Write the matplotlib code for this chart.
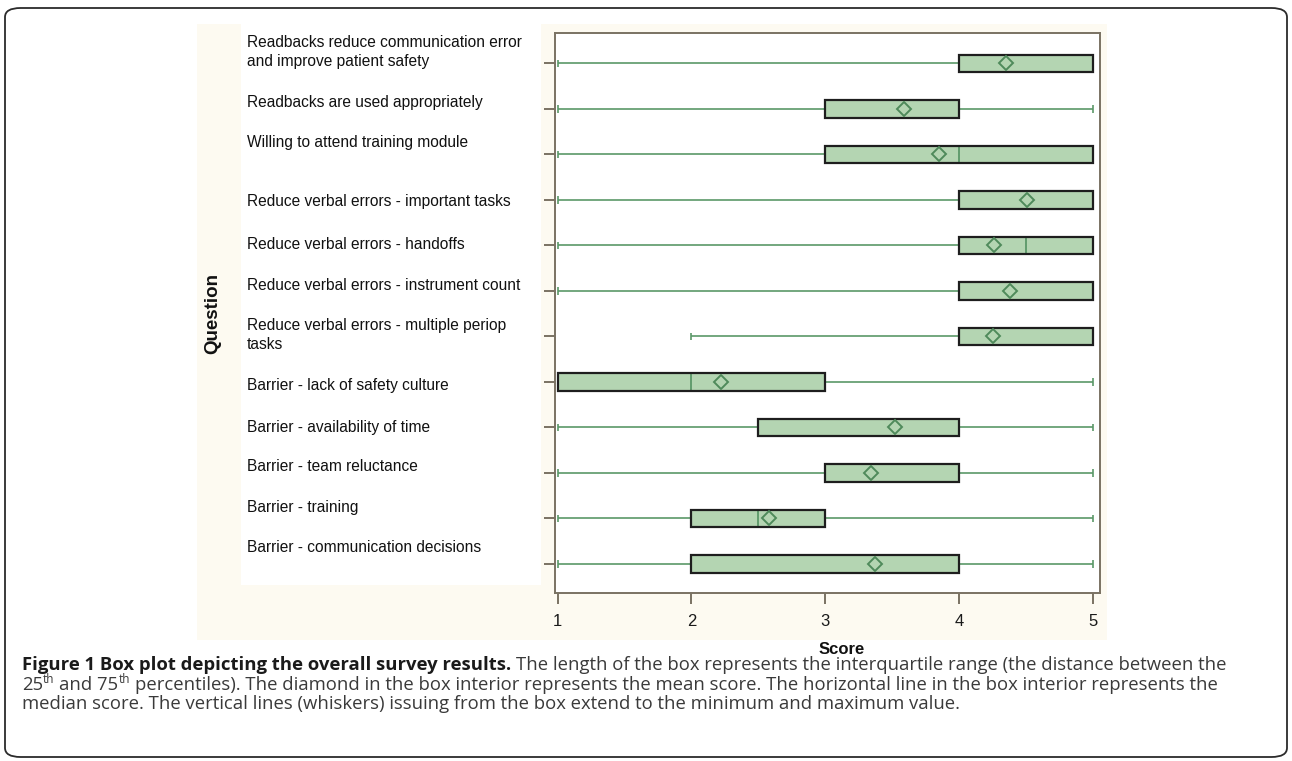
import numpy as np
import matplotlib.pyplot as plt
from matplotlib.patches import Rectangle, FancyBboxPatch
from matplotlib.transforms import blended_transform_factory

# ---------- survey data (five point scale) ----------
questions = [
    'Readbacks reduce communication error\nand improve patient safety',
    'Readbacks are used appropriately',
    'Willing to attend training module',
    'Reduce verbal errors - important tasks',
    'Reduce verbal errors - handoffs',
    'Reduce verbal errors - instrument count',
    'Reduce verbal errors - multiple periop\ntasks',
    'Barrier - lack of safety culture',
    'Barrier - availability of time',
    'Barrier - team reluctance',
    'Barrier - training',
    'Barrier - communication decisions',
]
score_min = [1, 1, 1, 1, 1, 1, 2, 1, 1, 1, 1, 1]
score_q1 = [4, 3, 3, 4, 4, 4, 4, 1, 2.5, 3, 2, 2]
score_median = [5, 4, 4, 5, 4.5, 5, 4, 2, 4, 3, 2.5, 4]
score_q3 = [5, 4, 5, 5, 5, 5, 5, 3, 4, 4, 3, 4]
score_max = [5, 5, 5, 5, 5, 5, 5, 5, 5, 5, 5, 5]
score_mean = [4.35, 3.59, 3.85, 4.51, 4.26, 4.38, 4.25, 2.22, 3.52, 3.34, 2.58, 3.37]
score_ticks = [1, 2, 3, 4, 5]

# label placement relative to each row (row units)
label_shift = [-0.25, -0.15, -0.26, 0.04, -0.03, -0.13, -0.03, 0.07, 0.0, -0.13, -0.25, -0.35]

caption_bold = 'Figure 1 Box plot depicting the overall survey results.'
caption_1 = ' The length of the box represents the interquartile range (the distance between the'
caption_2 = ' percentiles). The diamond in the box interior represents the mean score. The horizontal line in the box interior represents the'
caption_3 = 'median score. The vertical lines (whiskers) issuing from the box extend to the minimum and maximum value.'

# ---------- colours ----------
cream = '#fdfaf1'
box_fill = '#b4d5b2'
green = '#5b9868'
frame = '#7a7263'

plt.rcParams['font.family'] = ['Liberation Sans', 'DejaVu Sans']

fig = plt.figure(figsize=(12.92, 7.61), dpi=100)
W, H = 1292.0, 761.0

# outer rounded frame of the page
fig.patches.append(FancyBboxPatch((5 / W, 4 / H), 1282 / W, 749 / H,
                                  boxstyle='round,pad=0,rounding_size=0.012',
                                  transform=fig.transFigure, fill=False,
                                  edgecolor='#2b2b2b', linewidth=1.3, zorder=0))
# cream panel behind the chart and white panel for the question text
fig.patches.append(Rectangle((197 / W, 1 - 640 / H), 910 / W, 616 / H,
                             transform=fig.transFigure, facecolor=cream,
                             edgecolor='none', zorder=0))
fig.patches.append(Rectangle((241 / W, 1 - 585 / H), 300 / W, 561 / H,
                             transform=fig.transFigure, facecolor='white',
                             edgecolor='none', zorder=0))

ax = fig.add_axes([555 / W, 1 - 593 / H, 545 / W, 560 / H])
ax.set_zorder(1)
ax.set_facecolor('white')

rows = np.arange(1, len(questions) + 1)
q1 = np.array(score_q1)
q3 = np.array(score_q3)

# whiskers and caps
ax.hlines(rows, score_min, q1, color=green, lw=1.2, zorder=2)
ax.hlines(rows, q3, score_max, color=green, lw=1.2, zorder=2)
ax.vlines(score_min, rows - 0.08, rows + 0.08, color=green, lw=1.2, zorder=2)
ax.vlines(score_max, rows - 0.08, rows + 0.08, color=green, lw=1.2, zorder=2)

# boxes: fill, median, then outline on top
ax.barh(rows, q3 - q1, left=q1, height=0.39, color=box_fill, edgecolor='none', zorder=3)
ax.vlines(score_median, rows - 0.195, rows + 0.195, color=green, lw=1.3, zorder=4)
ax.barh(rows, q3 - q1, left=q1, height=0.39, fill=False, edgecolor='#1e1e1e', lw=1.6, zorder=5)

# means
ax.plot(score_mean, rows, linestyle='none', marker='D', ms=7.2, mfc='none',
        mec='#4f8a5b', mew=1.4, zorder=6)

ax.set_xlim(0.981, 5.052)
ax.set_ylim(12.64, 0.33)
ax.set_xticks(score_ticks)
ax.set_xticklabels([str(t) for t in score_ticks], fontsize=12, color='#1a1a1a')
ax.set_yticks(rows)
ax.set_yticklabels([])
ax.tick_params(axis='both', direction='out', length=8, width=1.4, color=frame)
ax.tick_params(axis='x', pad=7)
for s in ax.spines.values():
    s.set_color(frame)
    s.set_linewidth(1.4)

# question text in the white panel
trans = blended_transform_factory(fig.transFigure, ax.transData)
for r, q, dy in zip(rows, questions, label_shift):
    fig.text(247 / W, r + dy, q, transform=trans, ha='left', va='center',
             fontsize=11.2, color='#111111', linespacing=1.32)

fig.text(213 / W, 1 - 313 / H, 'Question', rotation=90, ha='center', va='center',
         fontsize=13.5, fontweight='bold', color='#111111')
fig.text(842 / W, 1 - 650 / H, 'Score', ha='center', va='center',
         fontsize=12, fontweight='bold', color='#111111')

# ---------- caption, written run by run ----------
renderer = fig.canvas.get_renderer()
cap_font = ['Open Sans', 'DejaVu Sans']


def text_width(s, **kw):
    t = fig.text(0, 0, s, **kw)
    w = t.get_window_extent(renderer=renderer).width
    t.remove()
    return w


def caption_line(x_px, y_px, runs):
    for s, kw, rise in runs:
        lead = len(s) - len(s.lstrip(' '))
        if lead:
            x_px += lead * (text_width('a a', **kw) - text_width('aa', **kw))
            s = s.lstrip(' ')
        t = fig.text(x_px / W, 1 - (y_px - rise) / H, s, va='baseline', ha='left', **kw)
        x_px += t.get_window_extent(renderer=renderer).width


body = dict(family=cap_font, fontsize=13.3, color='#3a3a3a')
bold = dict(family=cap_font, fontsize=13.3, color='#1a1a1a', fontweight='bold')
sup = dict(family=cap_font, fontsize=8.5, color='#3a3a3a')

caption_line(22, 670, [(caption_bold, bold, 0), (caption_1, body, 0)])
caption_line(22, 690, [('25', body, 0), ('th', sup, 7), (' and 75', body, 0),
                       ('th', sup, 7), (caption_2, body, 0)])
caption_line(22, 709, [(caption_3, body, 0)])

fig.savefig('out.png', dpi=100, facecolor='white')
